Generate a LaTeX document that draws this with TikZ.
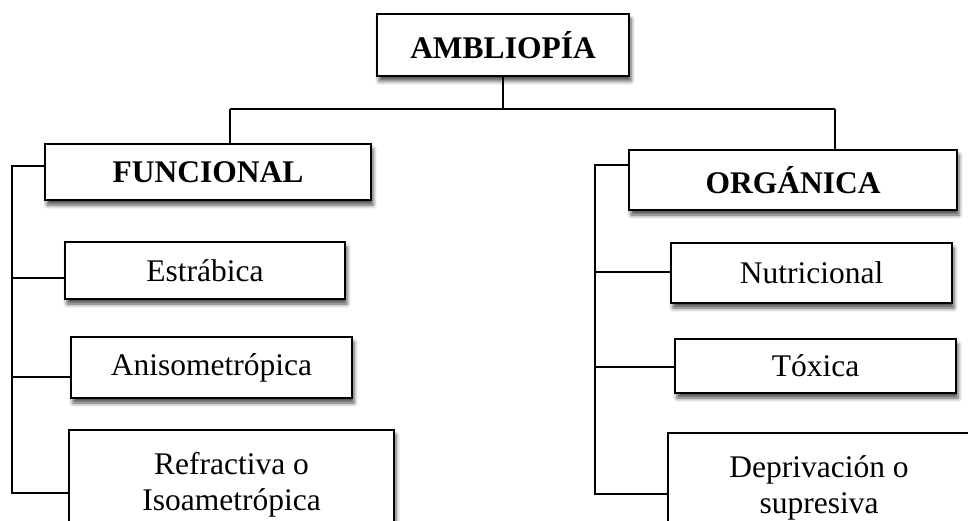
\documentclass[tikz,border=0pt]{standalone}
\usepackage{fontspec}
\setmainfont{Liberation Serif}
\usetikzlibrary{shadows.blur}

\begin{document}
\begin{tikzpicture}[x=1pt, y=-1pt, line width=1.1pt,
		box/.style={draw, fill=white, align=center, inner sep=2pt,
			font=\fontsize{31.5}{36}\selectfont,
			blur shadow={shadow xshift=2pt, shadow yshift=-5pt, shadow blur radius=4pt, shadow opacity=70}},
		headbox/.style={box, font=\fontsize{31.5}{36}\selectfont\bfseries}]
		\clip (0, 0) rectangle (968, 521);

		\node[headbox, minimum width=252, minimum height=62] (amb) at (503, 45) {AMBLIOPÍA};
		\node[headbox, minimum width=326, minimum height=56] (fun) at (208, 172) {FUNCIONAL};
		\node[headbox, minimum width=328, minimum height=60] (org) at (793, 180) {ORGÁNICA};

		\node[box, minimum width=280, minimum height=57] (est) at (205, 270.5) {Estrábica};
		\node[box, minimum width=281, minimum height=61] (ani) at (211.5, 367.5) {Anisometrópica};
		\node[box, minimum width=325, minimum height=110] (ref) at (231.5, 485) {Refractiva o\\Isoametrópica};

		\node[box, minimum width=281, minimum height=60] (nut) at (811.5, 273) {Nutricional};
		\node[box, minimum width=281, minimum height=54] (tox) at (815.5, 366) {Tóxica};
		\node[box, minimum width=302, minimum height=110] (dep) at (819, 488) {Deprivación o\\supresiva};

		\coordinate (bar) at (503, 109);
		\coordinate (barl) at (230, 109);
		\coordinate (barr) at (835, 109);

		\coordinate (f1) at (12, 166);
		\coordinate (f2) at (12, 278);
		\coordinate (f3) at (12, 377);
		\coordinate (f4) at (12, 493);

		\coordinate (o1) at (595, 165);
		\coordinate (o2) at (595, 272);
		\coordinate (o3) at (595, 367);
		\coordinate (o4) at (595, 494);

		\draw (amb.south) -- (bar);
		\draw (barl) -- (barr);
		\draw (barl) -- (barl |- fun.north);
		\draw (barr) -- (barr |- org.north);

		\draw (f1 -| fun.west) -- (f1) -- (f4) -- (f4 -| ref.west);
		\draw (f2) -- (f2 -| est.west);
		\draw (f3) -- (f3 -| ani.west);

		\draw (o1 -| org.west) -- (o1) -- (o4) -- (o4 -| dep.west);
		\draw (o2) -- (o2 -| nut.west);
		\draw (o3) -- (o3 -| tox.west);
	\end{tikzpicture}
\end{document}
